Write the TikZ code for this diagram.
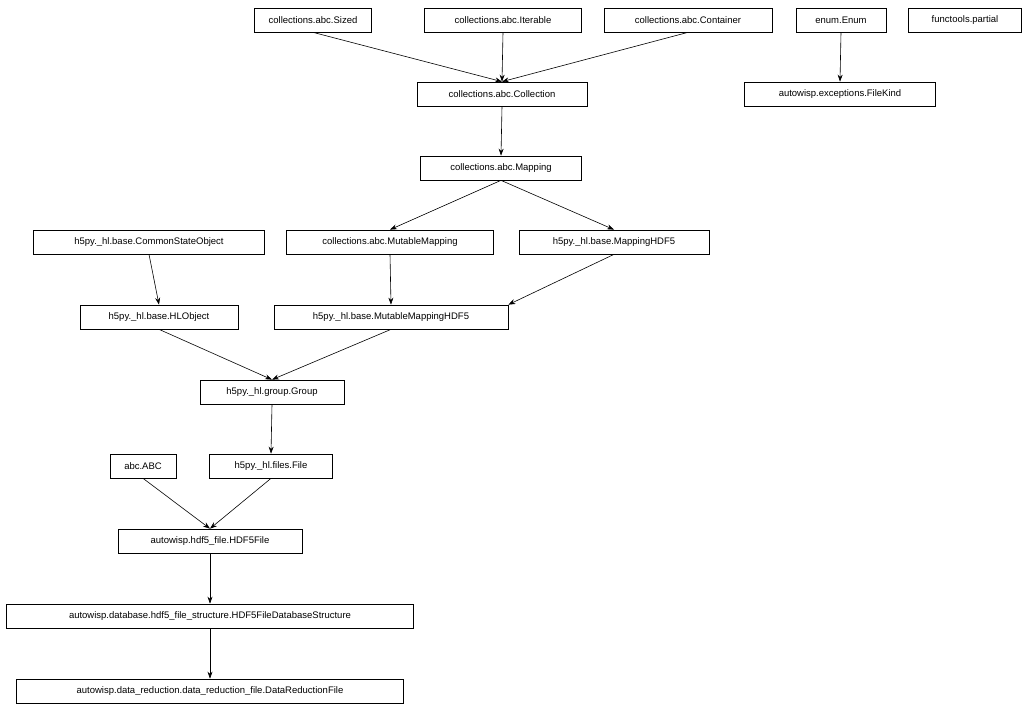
\documentclass[tikz,border=0pt]{standalone}
\usepackage{fontspec}
\setmainfont{Liberation Sans}
\usetikzlibrary{arrows.meta}
\begin{document}
\begin{tikzpicture}[x=1pt,y=-1pt,
  box/.style={draw,line width=0.7pt,minimum height=24pt,inner sep=0pt,font=\fontsize{9.5}{11}\selectfont},
  arr/.style={-{Stealth[length=7pt,width=5pt]},line width=0.6pt}]
\useasboundingbox (0,0) rectangle (1030,709);
\newcommand\bx[4]{\node[box,minimum width=#3pt] (#1) at #2 {#4};}
\bx{sized}{(313,20)}{117}{collections.abc.Sized}
\bx{iter}{(503,20)}{157}{collections.abc.Iterable}
\bx{cont}{(688,20)}{168}{collections.abc.Container}
\bx{enum}{(841,20)}{90}{enum.Enum}
\bx{part}{(965,20)}{113}{functools.partial}
\bx{coll}{(502,94)}{170}{collections.abc.Collection}
\bx{fk}{(840,94)}{191}{autowisp.exceptions.FileKind}
\bx{map}{(501,168)}{161}{collections.abc.Mapping}
\bx{cso}{(149,242)}{231}{h5py.\_hl.base.CommonStateObject}
\bx{mm}{(390,242)}{207}{collections.abc.MutableMapping}
\bx{mh}{(614,242)}{190}{h5py.\_hl.base.MappingHDF5}
\bx{hlo}{(159,317)}{158}{h5py.\_hl.base.HLObject}
\bx{mmh}{(391,317)}{234}{h5py.\_hl.base.MutableMappingHDF5}
\bx{grp}{(272,392)}{144}{h5py.\_hl.group.Group}
\bx{abc}{(143,466)}{66}{abc.ABC}
\bx{file}{(271,466)}{123}{h5py.\_hl.files.File}
\bx{h5f}{(210,541)}{184}{autowisp.hdf5\_file.HDF5File}
\bx{dbs}{(210,616)}{407}{autowisp.database.hdf5\_file\_structure.HDF5FileDatabaseStructure}
\bx{drf}{(210,691)}{387}{autowisp.data\_reduction.data\_reduction\_file.DataReductionFile}
\draw[arr] (sized.south) -- (coll.north);
\draw[arr] (iter.south) -- (coll.north);
\draw[arr] (cont.south) -- (coll.north);
\draw[arr] (enum.south) -- (fk.north);
\draw[arr] (coll.south) -- (map.north);
\draw[arr] (map.south) -- (mm.north);
\draw[arr] (map.south) -- (mh.north);
\draw[arr] (cso.south) -- (hlo.north);
\draw[arr] (mm.south) -- (mmh.north);
\draw[arr] (mh.south) -- (mmh.north east);
\draw[arr] (hlo.south) -- (grp.north);
\draw[arr] (mmh.south) -- (grp.north);
\draw[arr] (grp.south) -- (file.north);
\draw[arr] (abc.south) -- (h5f.north);
\draw[arr] (file.south) -- (h5f.north);
\draw[arr] (h5f.south) -- (dbs.north);
\draw[arr] (dbs.south) -- (drf.north);
\end{tikzpicture}
\end{document}
